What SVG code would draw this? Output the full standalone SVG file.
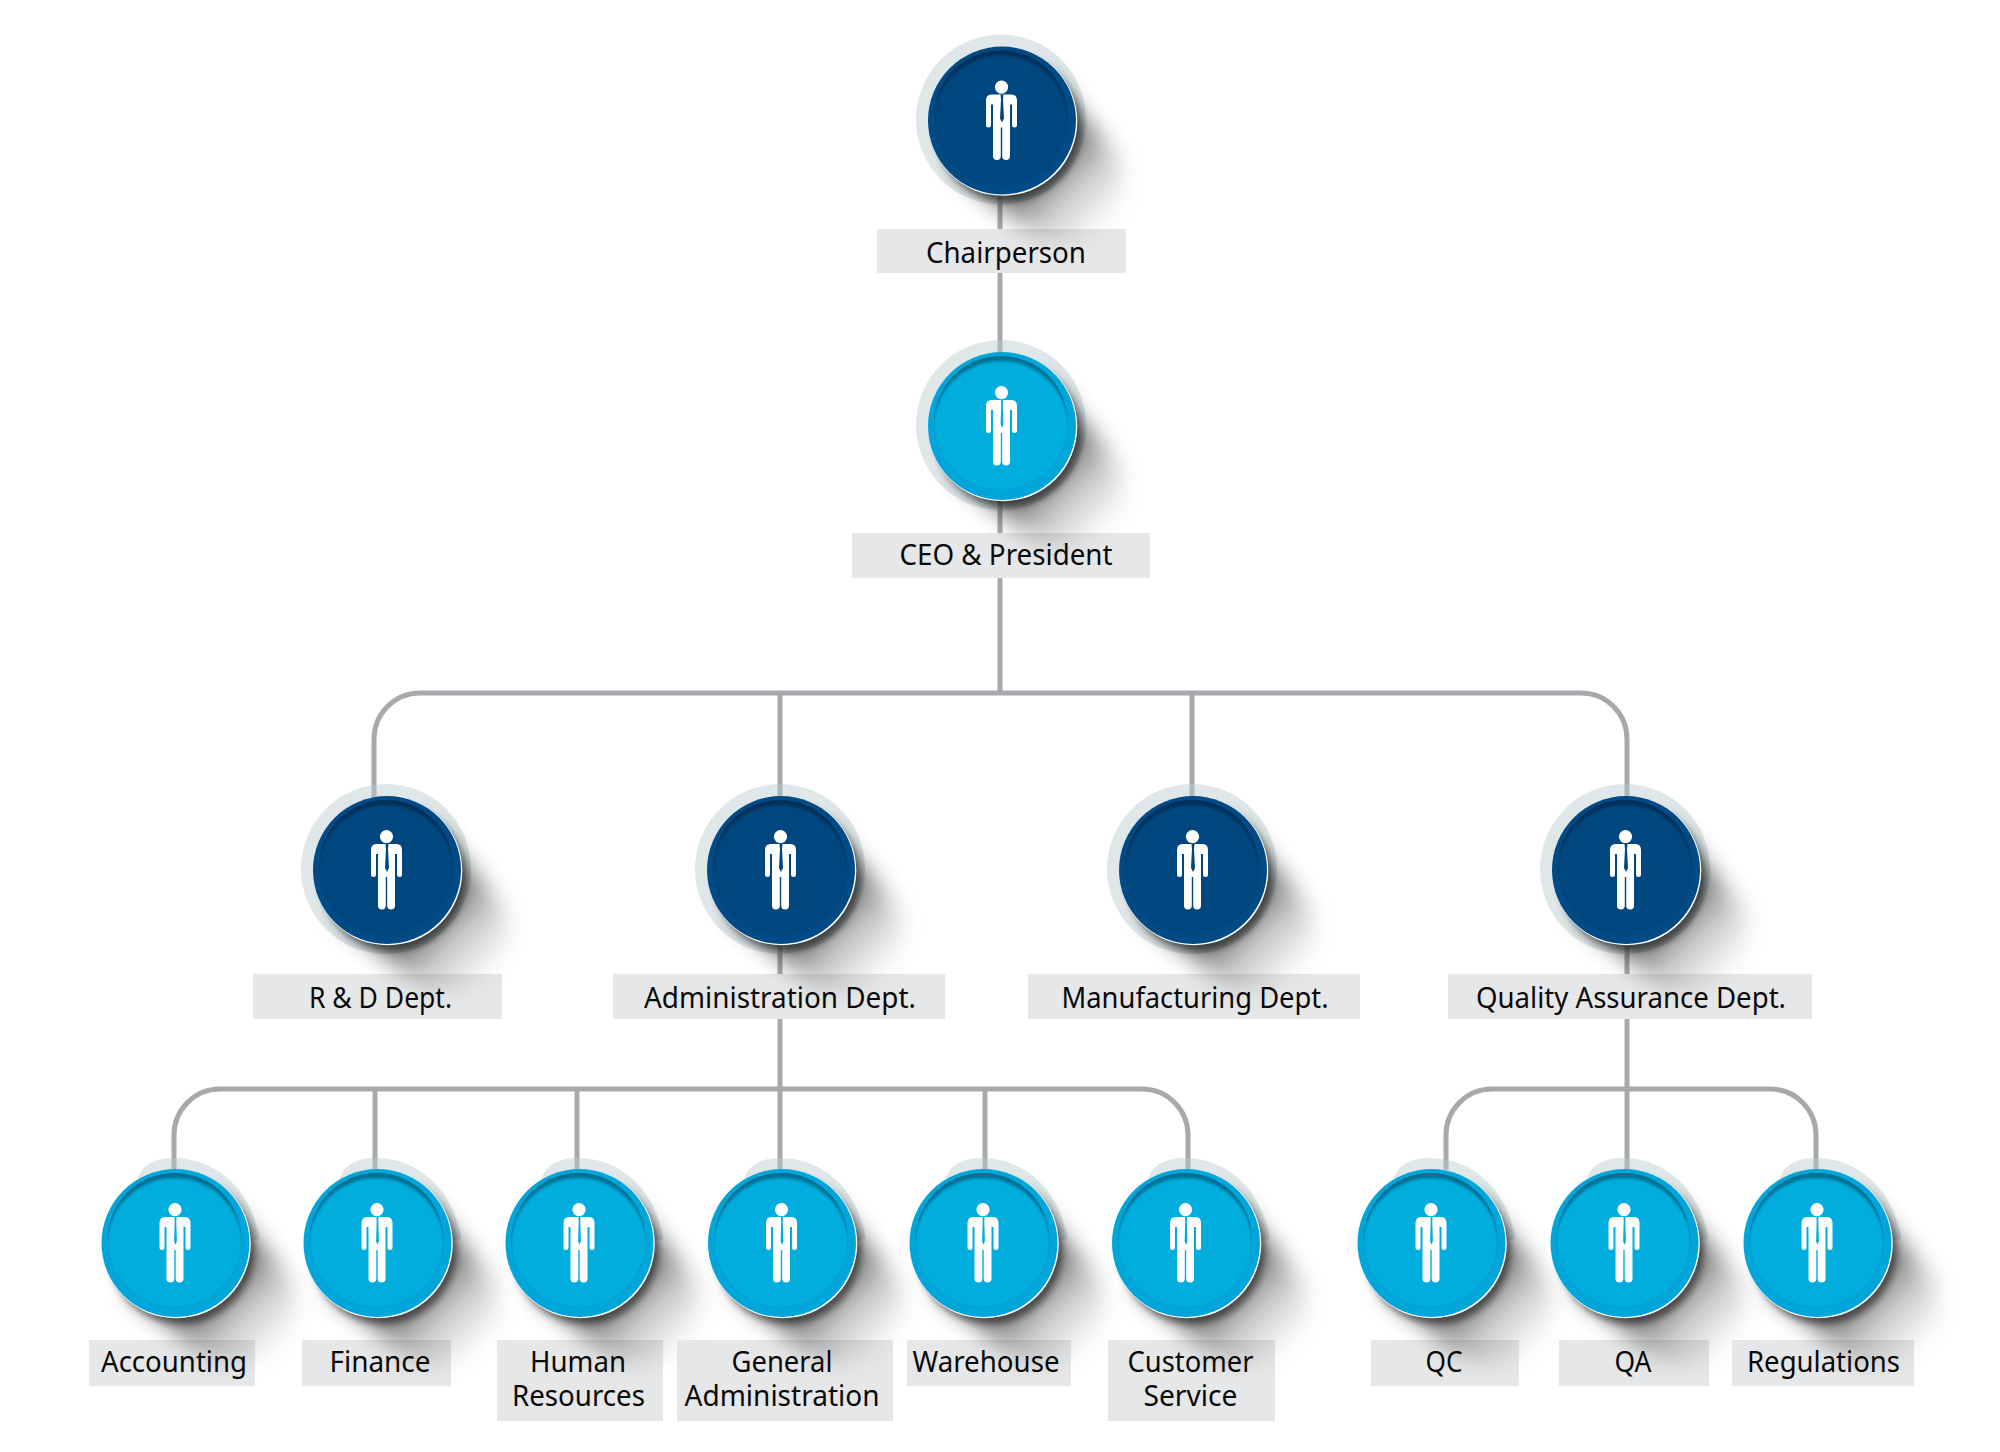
<svg xmlns="http://www.w3.org/2000/svg" width="2000" height="1452" viewBox="0 0 2000 1452">
<style>
.bg{fill:#fff}
.wire{fill:none;stroke:#a7a9ac;stroke-width:5}
.lbl{fill:#e6e7e8}
text{font-family:"Noto Sans","Liberation Sans",sans-serif;font-size:29px;fill:#0a0a0a;text-anchor:middle}
.halo{fill:#b9c9ce;fill-opacity:.45}
.rim{fill:#fff}
.fig{fill:#fff}
</style>
<defs>
<filter id="b12" x="-40%" y="-40%" width="180%" height="180%"><feGaussianBlur stdDeviation="11"/></filter>
<filter id="b4" x="-20%" y="-20%" width="140%" height="140%"><feGaussianBlur stdDeviation="3.500"/></filter>
<filter id="b2" x="-10%" y="-10%" width="120%" height="120%"><feGaussianBlur stdDeviation="1.800"/></filter>
<linearGradient id="fade" x1="0" x2="1" y1="0" y2="0"><stop offset=".45" stop-color="#000" stop-opacity=".5"/><stop offset=".65" stop-color="#000" stop-opacity=".22"/><stop offset="1" stop-color="#000" stop-opacity="0"/></linearGradient>
<clipPath id="innerclip"><circle cx="-1" cy="-3" r="67"/></clipPath>
<g id="shadow">
<path transform="rotate(45)" d="M0,-66 L110,-56 Q150,-30 148,0 Q150,30 110,58 L0,70Z" fill="url(#fade)" filter="url(#b12)"/>
<circle cx="6" cy="8" r="73" fill="#000" fill-opacity=".5" filter="url(#b4)"/>
</g>
<g id="person">
<circle cx="0" cy="6.600" r="6.600" class="fig"/>
<path class="fig" d="M-10,14H10Q15.500,14 15.500,20V44.500a2.500,2.500 0 0 1-5,0V24H8.500V75.500Q8.500,79.500 4.600,79.500Q.7,79.500 .7,75.500V47H-.7V75.500Q-.7,79.500-4.600,79.500Q-8.500,79.500-8.500,75.500V24H-10.500V44.500a2.500,2.500 0 0 1-5,0V20Q-15.500,14-10,14Z"/>
</g>
<g id="face-dark">
<circle cx=".8" cy=".8" r="74.500" class="rim"/>
<circle r="74" fill="#004a86"/>
<circle cx="-1" cy="-3" r="67" fill="#00305a"/>
<g clip-path="url(#innerclip)"><circle cx="-1" cy="3" r="68" fill="#00477f" filter="url(#b2)"/></g>
<use href="#person" x="-.5" y="-40"/>
<path d="M-1.500,-26H1.500L1,-21L2,-2L0,2L-2,-2L-1,-21Z" fill="#00477f"/>
</g>
<g id="face-light">
<circle cx=".8" cy=".8" r="74.500" class="rim"/>
<circle r="74" fill="#00a6da"/>
<circle cx="-1" cy="-3" r="67" fill="#006f93"/>
<g clip-path="url(#innerclip)"><circle cx="-1" cy="3" r="68" fill="#00addd" filter="url(#b2)"/></g>
<use href="#person" x="-.5" y="-40"/>
<path d="M-1,-26H1L.8,-21L1.400,-2L0,2L-1.400,-2L-.8,-21Z" fill="#00addd"/>
</g>
<g id="disc-dark"><circle cx="-1" cy="-1" r="85" class="halo"/><use href="#shadow"/><use href="#face-dark"/></g>
<g id="disc-light"><circle cx="-1" cy="-1" r="85" class="halo"/><use href="#shadow"/><use href="#face-light"/></g>
<g id="disc-leaf"><path class="halo" d="M-38,-64C-34,-78-20,-85-2,-85C42,-85 76,-52 84,-4L60,0Z"/><use href="#shadow"/><use href="#face-light"/></g>
</defs>
<rect class="bg" width="2000" height="1452"/>
<g id="connectors">
<path class="wire" d="M1000,190V693"/>
<path class="wire" d="M374,800V739A46,46 0 0 1 420,693H1581A46,46 0 0 1 1627,739V800"/>
<path class="wire" d="M780,693V1170"/>
<path class="wire" d="M1192,693V800"/>
<path class="wire" d="M174,1170V1135A46,46 0 0 1 220,1089H1142A46,46 0 0 1 1188,1135V1170"/>
<path class="wire" d="M375,1089V1170M577,1089V1170M985,1089V1170"/>
<path class="wire" d="M1627,940V1170"/>
<path class="wire" d="M1446,1170V1135A46,46 0 0 1 1492,1089H1770A46,46 0 0 1 1816,1135V1170"/>
</g>
<g id="chairperson"><rect class="lbl" x="877" y="229" width="249" height="44"/><use href="#disc-dark" x="1002" y="120.500"/><text x="1006" y="263" textLength="160" lengthAdjust="spacingAndGlyphs">Chairperson</text></g>
<g id="ceo"><rect class="lbl" x="852" y="533" width="298" height="45"/><use href="#disc-light" x="1002" y="426"/><text x="1006" y="565" textLength="213" lengthAdjust="spacingAndGlyphs">CEO &amp; President</text></g>
<g id="rd"><rect class="lbl" x="253" y="974" width="249" height="45"/><use href="#disc-dark" x="387" y="870"/><text x="380.500" y="1008" textLength="143" lengthAdjust="spacingAndGlyphs">R &amp; D Dept.</text></g>
<g id="admin"><rect class="lbl" x="613" y="974" width="332" height="45"/><use href="#disc-dark" x="781" y="870"/><text x="780" y="1008" textLength="272" lengthAdjust="spacingAndGlyphs">Administration Dept.</text></g>
<g id="mfg"><rect class="lbl" x="1028" y="974" width="332" height="45"/><use href="#disc-dark" x="1193" y="870"/><text x="1195" y="1008" textLength="267" lengthAdjust="spacingAndGlyphs">Manufacturing Dept.</text></g>
<g id="qadept"><rect class="lbl" x="1448" y="974" width="364" height="45"/><use href="#disc-dark" x="1626" y="870"/><text x="1631" y="1008" textLength="310" lengthAdjust="spacingAndGlyphs">Quality Assurance Dept.</text></g>
<g id="accounting"><rect class="lbl" x="89" y="1340" width="166" height="46"/><use href="#disc-leaf" x="175.500" y="1243"/><text x="174" y="1372" textLength="146" lengthAdjust="spacingAndGlyphs">Accounting</text></g>
<g id="finance"><rect class="lbl" x="302" y="1340" width="149" height="46"/><use href="#disc-leaf" x="377.500" y="1243"/><text x="380" y="1372" textLength="101" lengthAdjust="spacingAndGlyphs">Finance</text></g>
<g id="hr"><rect class="lbl" x="497" y="1340" width="166" height="81"/><use href="#disc-leaf" x="579.500" y="1243"/><text x="578" y="1372" textLength="96" lengthAdjust="spacingAndGlyphs">Human</text><text x="578.500" y="1406" textLength="133" lengthAdjust="spacingAndGlyphs">Resources</text></g>
<g id="ga"><rect class="lbl" x="677" y="1340" width="216" height="81"/><use href="#disc-leaf" x="782" y="1243"/><text x="782" y="1372" textLength="101" lengthAdjust="spacingAndGlyphs">General</text><text x="782" y="1406" textLength="195" lengthAdjust="spacingAndGlyphs">Administration</text></g>
<g id="warehouse"><rect class="lbl" x="907" y="1340" width="164" height="46"/><use href="#disc-leaf" x="983.500" y="1243"/><text x="986" y="1372" textLength="147" lengthAdjust="spacingAndGlyphs">Warehouse</text></g>
<g id="customer"><rect class="lbl" x="1108" y="1340" width="167" height="81"/><use href="#disc-leaf" x="1186" y="1243"/><text x="1190.500" y="1372" textLength="126" lengthAdjust="spacingAndGlyphs">Customer</text><text x="1190.500" y="1406" textLength="94" lengthAdjust="spacingAndGlyphs">Service</text></g>
<g id="qc"><rect class="lbl" x="1371" y="1340" width="148" height="46"/><use href="#disc-leaf" x="1431.500" y="1243"/><text x="1444" y="1372" textLength="37" lengthAdjust="spacingAndGlyphs">QC</text></g>
<g id="qa"><rect class="lbl" x="1559" y="1340" width="150" height="46"/><use href="#disc-leaf" x="1624.500" y="1243"/><text x="1633" y="1372" textLength="37" lengthAdjust="spacingAndGlyphs">QA</text></g>
<g id="regulations"><rect class="lbl" x="1732" y="1340" width="182" height="46"/><use href="#disc-leaf" x="1817.500" y="1243"/><text x="1823.500" y="1372" textLength="153" lengthAdjust="spacingAndGlyphs">Regulations</text></g>
</svg>
